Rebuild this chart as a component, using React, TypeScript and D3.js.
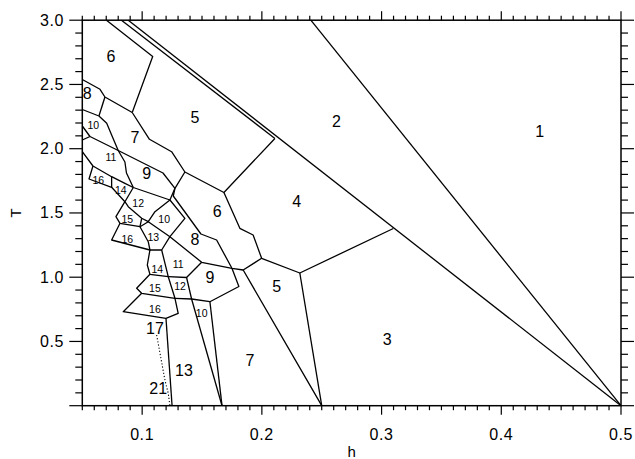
import React, { useEffect, useRef } from 'react';
import * as d3 from 'd3';

type Pt = [number, number];
type Label = [string, number, number];

// axis ticks
const xTickLabels = [0.1, 0.2, 0.3, 0.4, 0.5];
const yTickLabels = [0.5, 1.0, 1.5, 2.0, 2.5, 3.0];

// long straight boundaries running down to h = 1/2
const outerLines: Pt[][] = [
  [[0.2409, 3.0], [0.5, 0]],
  [[0.0884, 3.0], [0.5, 0]],
  [[0.0827, 3.0], [0.2109, 2.0794]],
];

// phase boundaries of the upper part (h, T)
const upperLines: Pt[][] = [
  [[0.0702, 3.0], [0.1088, 2.7175], [0.0917, 2.2817]],
  [[0.05, 2.5385], [0.0648, 2.4623], [0.0689, 2.4023], [0.0917, 2.2817]],
  [[0.0689, 2.4023], [0.0639, 2.2545]],
  [[0.05, 2.3051], [0.0639, 2.2545]],
  [[0.0917, 2.2817], [0.1061, 2.0732], [0.1246, 1.9767], [0.1357, 1.8187], [0.1683, 1.6591], [0.2109, 2.0794]],
  [[0.1683, 1.6591], [0.1816, 1.3805], [0.1927, 1.3284], [0.1998, 1.1471], [0.2317, 1.0327], [0.3098, 1.379]],
  [[0.2317, 1.0327], [0.25, 0]],
  [[0.1998, 1.1471], [0.1844, 1.056], [0.25, 0]],
  [[0.1357, 1.8187], [0.1274, 1.6918], [0.126, 1.6319], [0.1491, 1.3362], [0.1622, 1.2895], [0.175, 1.0693], [0.1844, 1.056]],
  [[0.0639, 2.2545], [0.0704, 2.1977], [0.0745, 2.1066], [0.08, 1.986]],
  [[0.05, 2.1767], [0.0564, 2.0949], [0.08, 1.986], [0.1174, 1.8109], [0.1274, 1.6918]],
  [[0.05, 2.0677], [0.0564, 2.0949]],
  [[0.08, 1.986], [0.0856, 1.8965], [0.0869, 1.8109], [0.0926, 1.698]],
  [[0.05, 1.9767], [0.0589, 1.8654], [0.0745, 1.7821], [0.0856, 1.7307], [0.0926, 1.698], [0.1232, 1.6008], [0.1274, 1.6918]],
];

// small cells along the diagonal band
const cellLines: Pt[][] = [
  [[0.0589, 1.8654], [0.0556, 1.7642], [0.0745, 1.6996], [0.0745, 1.7821]],
  [[0.0745, 1.6996], [0.0856, 1.5875], [0.0926, 1.698]],
  [[0.0856, 1.5875], [0.0884, 1.5486], [0.0996, 1.4584], [0.1051, 1.4319], [0.1107, 1.5097], [0.1232, 1.6008]],
  [[0.1232, 1.6008], [0.1357, 1.4584], [0.1232, 1.3152], [0.1051, 1.4319]],
  [[0.0856, 1.5875], [0.0781, 1.4708], [0.0815, 1.4195], [0.0982, 1.393], [0.0996, 1.4584]],
  [[0.0815, 1.4195], [0.0745, 1.2895], [0.1065, 1.2117], [0.1051, 1.2763], [0.0982, 1.393], [0.1051, 1.4319]],
  [[0.1232, 1.3152], [0.1163, 1.2117], [0.1065, 1.2117]],
  [[0.1232, 1.3152], [0.1497, 1.116], [0.175, 1.0693]],
  [[0.1065, 1.2117], [0.1043, 1.0949], [0.1065, 1.0226], [0.1218, 1.0039], [0.1163, 1.2117]],
  [[0.1065, 1.0226], [0.0954, 0.9136], [0.0996, 0.8747], [0.1274, 0.8358], [0.1218, 1.0039]],
  [[0.1218, 1.0039], [0.1371, 0.9977], [0.1413, 0.8304], [0.1274, 0.8358]],
  [[0.1371, 0.9977], [0.1497, 1.116]],
  [[0.175, 1.0693], [0.1808, 0.9276], [0.1566, 0.8093], [0.1413, 0.8304]],
  [[0.0996, 0.8747], [0.0842, 0.7315], [0.1199, 0.6802], [0.1301, 0.7191], [0.1274, 0.8358]],
  [[0.1413, 0.8304], [0.1667, 0]],
  [[0.1566, 0.8093], [0.1667, 0]],
  [[0.1199, 0.6802], [0.125, 0]],
];

const dottedLine: Pt[] = [[0.1121, 0.5502], [0.119, 0.2], [0.1218, 0.0965], [0.1232, 0]];

const bigLabels: Label[] = [
  ['6', 0.074, 2.716], ['8', 0.0542, 2.4257], ['7', 0.094, 2.0887], ['5', 0.1441, 2.2444],
  ['2', 0.2624, 2.2101], ['1', 0.4321, 2.1377], ['9', 0.1038, 1.8086], ['6', 0.1627, 1.5097],
  ['4', 0.229, 1.5875], ['8', 0.1441, 1.2895], ['9', 0.1566, 0.9992], ['5', 0.2123, 0.9315],
  ['3', 0.3046, 0.5167], ['7', 0.19, 0.3556], ['13', 0.1349, 0.2778], ['17', 0.1107, 0.6023],
  ['21', 0.1134, 0.1354],
];

const smallLabels: Label[] = [
  ['10', 0.0592, 2.1844], ['11', 0.074, 1.9377], ['16', 0.0634, 1.7564], ['14', 0.0821, 1.6786],
  ['12', 0.0967, 1.5751], ['15', 0.0876, 1.4506], ['10', 0.1184, 1.4506], ['16', 0.0876, 1.2949],
  ['13', 0.1093, 1.3105], ['14', 0.1126, 1.0615], ['11', 0.1301, 1.1027], ['15', 0.1107, 0.9136],
  ['12', 0.1316, 0.9315], ['16', 0.1107, 0.7502], ['10', 0.1497, 0.7191],
];

const FONT = '"Liberation Sans", Arial, sans-serif';

const App = () => {
  const svgRef = useRef<SVGSVGElement>(null);

  useEffect(() => {
    const width = 635;
    const height = 459;
    const svg = d3.select(svgRef.current);
    svg.selectAll('*').remove();
    svg.attr('width', width).attr('height', height);

    svg.append('rect').attr('width', width).attr('height', height).attr('fill', '#fff');

    const x = d3.scaleLinear().domain([0.05, 0.5]).range([82.3, 621]);
    const y = d3.scaleLinear().domain([0, 3]).range([405.7, 20.2]);

    const line = d3.line<Pt>().x(d => x(d[0])).y(d => y(d[1]));

    // boundaries
    const g = svg.append('g').attr('fill', 'none').attr('stroke', '#000')
      .attr('stroke-width', 1.3).attr('stroke-linejoin', 'round');
    [...outerLines, ...upperLines, ...cellLines].forEach(pts => {
      g.append('path').attr('d', line(pts));
    });
    g.append('path').attr('d', line(dottedLine)).attr('stroke-width', 1.1)
      .attr('stroke-dasharray', '1.2,2');

    // frame
    svg.append('rect')
      .attr('x', x(0.05)).attr('y', y(3))
      .attr('width', x(0.5) - x(0.05)).attr('height', y(0) - y(3))
      .attr('fill', 'none').attr('stroke', '#000').attr('stroke-width', 1.5);

    // ticks
    const ticks = svg.append('g').attr('stroke', '#000').attr('stroke-width', 1.2);
    d3.range(5, 51).forEach(i => {
      const len = i % 10 === 0 ? 9 : 4.5;
      const px = x(i / 100);
      ticks.append('line').attr('x1', px).attr('x2', px).attr('y1', y(0)).attr('y2', y(0) + len);
      ticks.append('line').attr('x1', px).attr('x2', px).attr('y1', y(3)).attr('y2', y(3) - len);
    });
    d3.range(0, 31).forEach(i => {
      const len = i % 5 === 0 ? 13 : 7;
      const py = y(i / 10);
      ticks.append('line').attr('x1', x(0.05)).attr('x2', x(0.05) - len).attr('y1', py).attr('y2', py);
      ticks.append('line').attr('x1', x(0.5)).attr('x2', x(0.5) + len).attr('y1', py).attr('y2', py);
    });

    // tick labels
    svg.append('g').selectAll('text').data(xTickLabels).enter().append('text')
      .attr('x', d => x(d)).attr('y', 440)
      .attr('text-anchor', 'middle').attr('font-family', FONT).attr('font-size', 16)
      .attr('letter-spacing', 0.6)
      .text(d => d.toFixed(1));
    svg.append('g').selectAll('text').data(yTickLabels).enter().append('text')
      .attr('x', 64).attr('y', d => y(d))
      .attr('text-anchor', 'end').attr('dominant-baseline', 'central')
      .attr('font-family', FONT).attr('font-size', 16).attr('letter-spacing', 0.6)
      .text(d => d.toFixed(1));

    // axis titles
    svg.append('text').attr('x', (x(0.05) + x(0.5)) / 2).attr('y', 457)
      .attr('text-anchor', 'middle').attr('font-family', FONT).attr('font-size', 15).text('h');
    svg.append('text').attr('transform', `translate(21, ${y(1.5)}) rotate(-90)`)
      .attr('text-anchor', 'middle').attr('font-family', FONT).attr('font-size', 15).text('T');

    // region labels
    svg.append('g').selectAll('text').data(bigLabels).enter().append('text')
      .attr('x', d => x(d[1])).attr('y', d => y(d[2]))
      .attr('text-anchor', 'middle').attr('dominant-baseline', 'central')
      .attr('font-family', FONT).attr('font-size', 16)
      .text(d => d[0]);
    svg.append('g').selectAll('text').data(smallLabels).enter().append('text')
      .attr('x', d => x(d[1])).attr('y', d => y(d[2]))
      .attr('text-anchor', 'middle').attr('dominant-baseline', 'central')
      .attr('font-family', FONT).attr('font-size', 10.5)
      .text(d => d[0]);
  }, []);

  return (
    <svg ref={svgRef} style={{ position: 'absolute', left: 0, top: 0, display: 'block' }} />
  );
};

export default App;
